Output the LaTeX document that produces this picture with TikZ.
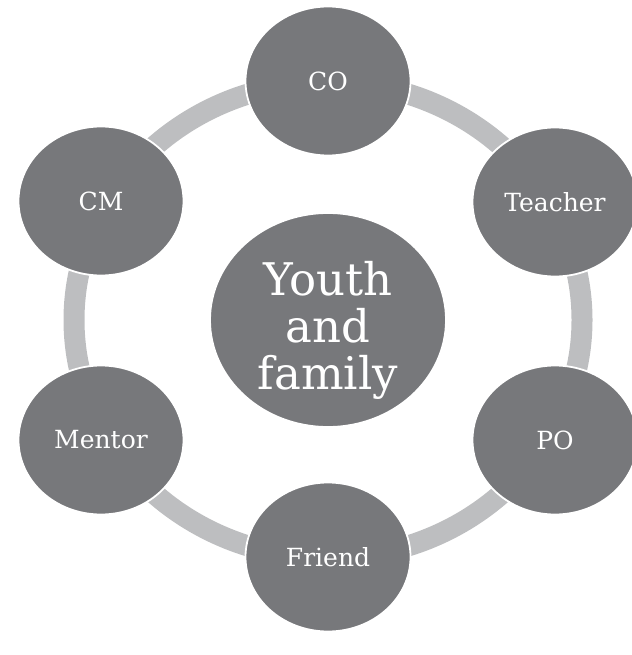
\documentclass[tikz,border=0pt]{standalone}
\usepackage{fontspec}
\setmainfont{DejaVu Serif}
\usetikzlibrary{shapes.geometric}
\definecolor{nodegray}{HTML}{77787B}
\definecolor{ringgray}{HTML}{BDBEC0}
\tikzset{
  outer/.style={ellipse, fill=nodegray, draw=white, line width=1.8pt,
    minimum width=165pt, minimum height=149pt, inner sep=0pt,
    text=white, font=\fontsize{25}{29}\selectfont},
  hub/.style={ellipse, fill=nodegray, draw=white, line width=1.8pt,
    minimum width=236pt, minimum height=214pt, inner xsep=0pt, inner ysep=-30pt,
    text=white, align=center, font=\fontsize{45}{47}\selectfont},
  ring/.style={draw=ringgray, line width=21pt}
}
\begin{document}
\begin{tikzpicture}[x=1pt,y=-1pt]
\useasboundingbox (0,0) rectangle (631,655);
\coordinate (c) at (328,320);
\draw[ring] (c) ellipse [x radius=254, y radius=238];
\node[hub] (yf) at (328,320) {\rule{0pt}{54pt}Youth\\and\\family};
\node[outer] (co) at (328,81) {CO};
\node[outer] (teacher) at (555,202) {Teacher};
\node[outer] (po) at (555,440) {PO};
\node[outer] (friend) at (328,557) {Friend};
\node[outer] (mentor) at (101,440) {Mentor};
\node[outer] (cm) at (101,201) {CM};
\end{tikzpicture}
\end{document}
